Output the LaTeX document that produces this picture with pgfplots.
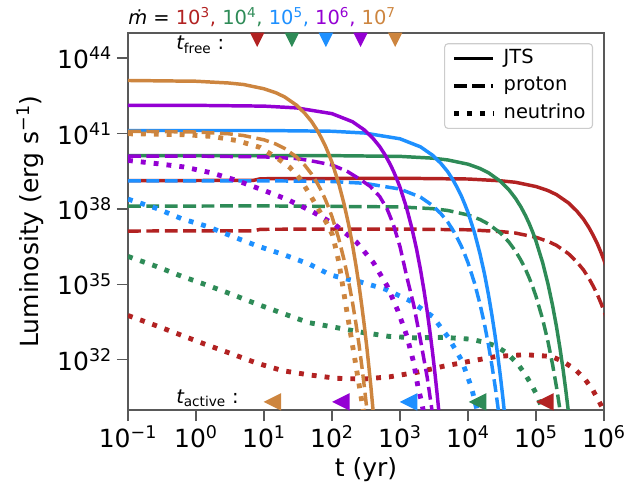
\documentclass[border=0pt]{standalone}
\usepackage{fontspec}
\setmainfont{DejaVu Sans}
\usepackage{pgfplots}
\usepackage{pgfplotstable}
\pgfplotsset{compat=1.18}

\definecolor{cR}{HTML}{B22222}
\definecolor{cG}{HTML}{2E8B57}
\definecolor{cB}{HTML}{1E90FF}
\definecolor{cP}{HTML}{9400D3}
\definecolor{cO}{HTML}{CD853F}

\pgfdeclareplotmark{tridown}{%
 \pgfpathmoveto{\pgfqpoint{0pt}{-\pgfplotmarksize}}%
 \pgfpathlineto{\pgfqpoint{-\pgfplotmarksize}{\pgfplotmarksize}}%
 \pgfpathlineto{\pgfqpoint{\pgfplotmarksize}{\pgfplotmarksize}}%
 \pgfpathclose\pgfusepathqfill}
\pgfdeclareplotmark{trileft}{%
 \pgfpathmoveto{\pgfqpoint{-\pgfplotmarksize}{0pt}}%
 \pgfpathlineto{\pgfqpoint{\pgfplotmarksize}{\pgfplotmarksize}}%
 \pgfpathlineto{\pgfqpoint{\pgfplotmarksize}{-\pgfplotmarksize}}%
 \pgfpathclose\pgfusepathqfill}

\tikzset{
 jts/.style={line width=2.5pt},
 prot/.style={line width=2.5pt, dash pattern=on 9.25pt off 4pt},
 neu/.style={line width=3.5pt, dash pattern=on 3.5pt off 5.8pt},
}
\newcommand{\tp}[1]{10\textsuperscript{#1}}

% ---------- JTS (log10 t, log10 L) ----------
\pgfplotstableread{
lt ly
-1 39.13
0 39.13
0.85 39.14
0.95 39.20
2 39.21
3 39.22
4 39.19
4.477 39.12
4.699 39.06
5 38.89
5.176 38.73
5.301 38.57
5.477 38.24
5.602 37.91
5.699 37.59
5.778 37.26
5.845 36.93
5.903 36.61
5.954 36.28
6 35.96
6.041 35.63
}\jR
\pgfplotstableread{
lt ly
-1 40.12
2 40.12
3 40.09
3.477 40.02
3.699 39.95
4 39.78
4.176 39.61
4.301 39.44
4.477 39.10
4.602 38.76
4.699 38.42
4.778 38.08
4.845 37.74
4.903 37.40
4.954 37.06
5 36.72
5.097 35.87
5.176 35.02
5.243 34.17
5.301 33.32
5.352 32.47
5.398 31.62
5.439 30.77
5.477 29.92
5.512 29.07
}\jG
\pgfplotstableread{
lt ly
-1 41.12
1 41.12
2 41.09
2.477 41.02
3 40.79
3.301 40.47
3.477 40.14
3.602 39.81
3.699 39.49
3.778 39.16
3.845 38.83
3.903 38.51
3.954 38.18
4 37.86
4.097 37.04
4.176 36.22
4.243 35.41
4.301 34.59
4.352 33.77
4.398 32.96
4.439 32.14
4.477 31.33
4.512 30.51
4.544 29.69
}\jB
\pgfplotstableread{
lt ly
-1 42.12
0 42.12
1 42.09
1.477 42.02
2 41.79
2.301 41.47
2.477 41.14
2.602 40.81
2.699 40.49
2.778 40.16
2.845 39.83
2.903 39.51
2.954 39.18
3 38.86
3.097 38.04
3.176 37.22
3.243 36.41
3.301 35.59
3.352 34.77
3.398 33.96
3.439 33.14
3.477 32.33
3.512 31.51
3.544 30.69
3.574 29.88
3.602 29.06
}\jP
\pgfplotstableread{
lt ly
-1 43.11
0 43.08
0.477 43.01
0.699 42.95
1 42.78
1.176 42.62
1.301 42.46
1.477 42.13
1.602 41.80
1.699 41.48
1.778 41.15
1.845 40.82
1.903 40.50
1.954 40.17
2 39.85
2.097 39.03
2.176 38.21
2.243 37.40
2.301 36.58
2.352 35.76
2.398 34.95
2.439 34.13
2.477 33.32
2.512 32.50
2.544 31.68
2.574 30.87
2.602 30.05
2.628 29.23
}\jO

% ---------- proton ----------
\pgfplotstableread{
lt ly
-1 37.12
0.85 37.13
0.95 37.19
3 37.20
4 37.17
4.477 37.10
4.699 37.04
5 36.87
5.176 36.71
5.301 36.55
5.477 36.22
5.602 35.89
5.699 35.57
5.778 35.24
5.845 34.91
5.903 34.59
5.954 34.26
6 33.94
6.041 33.61
}\pR
\pgfplotstableread{
lt ly
-1 38.11
1 38.12
3 38.08
3.477 38.01
3.699 37.94
4 37.76
4.176 37.58
4.301 37.40
4.477 37.04
4.602 36.68
4.699 36.32
4.778 35.96
4.845 35.60
4.903 35.24
4.954 34.88
5 34.52
5.097 33.62
5.176 32.72
5.243 31.82
5.301 30.92
5.352 30.02
5.398 29.12
}\pG
\pgfplotstableread{
lt ly
-1 39.12
1 39.12
2 39.09
2.477 39.02
3 38.79
3.301 38.47
3.477 38.14
3.602 37.81
3.699 37.49
3.778 37.16
3.845 36.83
3.903 36.51
3.954 36.18
4 35.86
4.097 35.04
4.176 34.22
4.243 33.41
4.301 32.59
4.352 31.77
4.398 30.96
4.439 30.14
4.477 29.33
}\pB
\pgfplotstableread{
lt ly
-1 40.10
0 40.10
1 40.07
1.5 40.00
1.72 39.90
2 39.75
2.22 39.50
2.4 39.20
2.56 38.90
2.7 38.50
2.81 38.00
2.9 37.40
3.0 36.50
3.1 35.30
3.2 34.20
3.3 32.80
3.4 31.30
3.47 30.00
3.5 29.40
}\pP
\pgfplotstableread{
lt ly
-1 41.09
0 41.06
0.477 40.99
0.699 40.92
1 40.75
1.176 40.58
1.301 40.41
1.477 40.07
1.602 39.73
1.699 39.39
1.778 39.05
1.845 38.71
1.903 38.37
1.954 38.03
2 37.69
2.097 36.84
2.176 35.99
2.243 35.14
2.301 34.29
2.352 33.44
2.398 32.59
2.439 31.74
2.477 30.89
2.512 30.04
2.544 29.19
}\pO

% ---------- neutrino ----------
\pgfplotstableread{
lt ly
-1 33.76
-0.58 33.35
-0.22 32.98
0.15 32.60
0.53 32.23
0.90 31.86
1.28 31.56
1.68 31.39
2.07 31.26
2.46 31.23
2.85 31.32
3.25 31.50
3.64 31.74
4.03 31.94
4.42 32.13
4.84 32.20
5.23 32.13
5.40 31.92
5.57 31.63
5.72 31.23
5.84 30.77
5.93 30.33
6.0 29.95
}\nR
\pgfplotstableread{
lt ly
-1 36.11
-0.58 35.71
-0.22 35.33
0.17 34.96
0.53 34.60
0.90 34.21
1.28 33.84
1.65 33.48
2.04 33.29
2.44 33.09
2.83 32.93
3.22 32.87
3.64 32.89
4.03 32.82
4.22 32.71
4.40 32.56
4.57 32.27
4.72 31.87
4.84 31.43
4.94 30.97
5.03 30.51
5.08 30.11
5.13 29.60
}\nG
\pgfplotstableread{
lt ly
-1 38.39
-0.58 38.02
-0.21 37.61
0.17 37.30
0.54 36.90
0.91 36.52
1.28 36.19
1.67 35.80
1.98 35.37
2.2 35.22
2.41 35.10
2.79 34.80
3.15 34.34
3.48 33.72
3.71 32.89
3.91 31.96
4.05 30.90
4.10 30.37
4.16 29.70
}\nB
\pgfplotstableread{
lt ly
-1 39.93
-0.57 39.80
-0.18 39.67
0.22 39.44
0.59 39.14
0.985 38.75
1.34 38.38
1.70 37.91
2.04 37.38
2.36 36.68
2.61 35.86
2.81 34.94
2.97 33.94
3.10 32.95
3.20 31.90
3.27 30.84
3.32 30.30
3.36 29.70
}\nP
\pgfplotstableread{
lt ly
-1 40.99
-0.5 40.97
-0.13 40.95
0.25 40.88
0.6 40.72
0.94 40.45
1.19 40.03
1.38 39.65
1.53 39.20
1.68 38.55
1.82 37.90
1.93 37.40
2.01 36.95
2.1 35.90
2.22 33.90
2.35 31.80
2.46 30.00
2.5 29.30
}\nO

\pgfplotsset{
 /pgfplots/table/lg/.style={x expr=10^(\thisrow{lt}), y expr=10^(\thisrow{ly})},
}

\begin{document}
\begin{tikzpicture}
\path[use as bounding box] (-92.16pt,-59.76pt) rectangle (360.72pt,295.2pt);
\begin{axis}[
 name=ax, at={(0pt,0pt)}, anchor=south west,
 width=342.72pt, height=271.44pt, scale only axis,
 xmode=log, ymode=log,
 xmin=0.1, xmax=1e6, ymin=1e30, ymax=1e45,
 xtick={0.1,1,10,100,1000,10000,100000,1000000},
 xticklabels={\tp{−1},\tp{0},\tp{1},\tp{2},\tp{3},\tp{4},\tp{5},\tp{6}},
 ytick={1e32,1e35,1e38,1e41,1e44},
 yticklabels={\tp{32},\tp{35},\tp{38},\tp{41},\tp{44}},
 xminorticks=false, yminorticks=false,
 tick align=outside, xtick pos=left, ytick pos=left,
 major tick length=8pt,
 tick style={black!65, line width=1pt},
 axis line style={black!65, line width=1pt},
 tick label style={font=\fontsize{18}{21.6}\selectfont, black},
 label style={font=\fontsize{18}{21.6}\selectfont},
 xlabel={t (yr)},
 ylabel={Luminosity (erg s\textsuperscript{−1})},
 xlabel style={at={(axis description cs:0.5,-0.1776)}, anchor=base},
 ylabel style={at={(axis description cs:-0.189,0.5)}, anchor=base},
 legend cell align=left,
 legend image code/.code={\draw[#1] (0pt,0pt) -- (28pt,0pt);},
 legend style={at={(0.977,0.973)}, anchor=north east,
   draw=black!20, line width=0.8pt, rounded corners=2.5pt, fill=white,
   font=\fontsize{14}{16.8}\selectfont, inner xsep=5pt, inner ysep=4pt,
   row sep=7pt,
   /tikz/every odd column/.append style={column sep=6pt},
   nodes={inner sep=0pt, text height=10pt, text depth=3pt}},
]
\addlegendimage{black, jts}\addlegendentry{JTS}
\addlegendimage{black, prot}\addlegendentry{proton}
\addlegendimage{black, neu}\addlegendentry{neutrino}

\addplot[cR, jts, forget plot] table[lg] {\jR};
\addplot[cR, prot, forget plot] table[lg] {\pR};
\addplot[cR, neu, forget plot] table[lg] {\nR};
\addplot[cG, jts, forget plot] table[lg] {\jG};
\addplot[cG, prot, forget plot] table[lg] {\pG};
\addplot[cG, neu, forget plot] table[lg] {\nG};
\addplot[cB, jts, forget plot] table[lg] {\jB};
\addplot[cB, prot, forget plot] table[lg] {\pB};
\addplot[cB, neu, forget plot] table[lg] {\nB};
\addplot[cP, jts, forget plot] table[lg] {\jP};
\addplot[cP, prot, forget plot] table[lg] {\pP};
\addplot[cP, neu, forget plot] table[lg] {\nP};
\addplot[cO, jts, forget plot] table[lg] {\jO};
\addplot[cO, prot, forget plot] table[lg] {\pO};
\addplot[cO, neu, forget plot] table[lg] {\nO};

% t_free markers
\addplot[cR, only marks, mark=tridown, mark size=5.2pt, forget plot] coordinates {(7.94,5.35e44)};
\addplot[cG, only marks, mark=tridown, mark size=5.2pt, forget plot] coordinates {(25.7,5.35e44)};
\addplot[cB, only marks, mark=tridown, mark size=5.2pt, forget plot] coordinates {(81.3,5.35e44)};
\addplot[cP, only marks, mark=tridown, mark size=5.2pt, forget plot] coordinates {(263,5.35e44)};
\addplot[cO, only marks, mark=tridown, mark size=5.2pt, forget plot] coordinates {(851,5.35e44)};
% t_active markers
\addplot[cO, only marks, mark=trileft, mark size=6.3pt, forget plot] coordinates {(13.3,2.1e30)};
\addplot[cP, only marks, mark=trileft, mark size=6.3pt, forget plot] coordinates {(135,2.1e30)};
\addplot[cB, only marks, mark=trileft, mark size=6.3pt, forget plot] coordinates {(1334,2.1e30)};
\addplot[cG, only marks, mark=trileft, mark size=6.3pt, forget plot] coordinates {(13800,2.1e30)};
\addplot[cR, only marks, mark=trileft, mark size=6.3pt, forget plot] coordinates {(134900,2.1e30)};
\end{axis}
\node[anchor=base west, inner sep=0pt, font=\fontsize{14}{16.8}\selectfont] at (0pt,277.2pt)
 {{\itshape ṁ} = \textcolor{cR}{10\textsuperscript{3},} \textcolor{cG}{10\textsuperscript{4},} \textcolor{cB}{10\textsuperscript{5},} \textcolor{cP}{10\textsuperscript{6},} \textcolor{cO}{10\textsuperscript{7}}};
\node[anchor=base west, inner sep=0pt, font=\fontsize{14}{16.8}\selectfont] at (34.56pt,259.2pt)
 {{\itshape t}\textsubscript{free} :};
\node[anchor=base west, inner sep=0pt, font=\fontsize{14}{16.8}\selectfont] at (34.56pt,5pt)
 {{\itshape t}\textsubscript{active} :};
\end{tikzpicture}
\end{document}
